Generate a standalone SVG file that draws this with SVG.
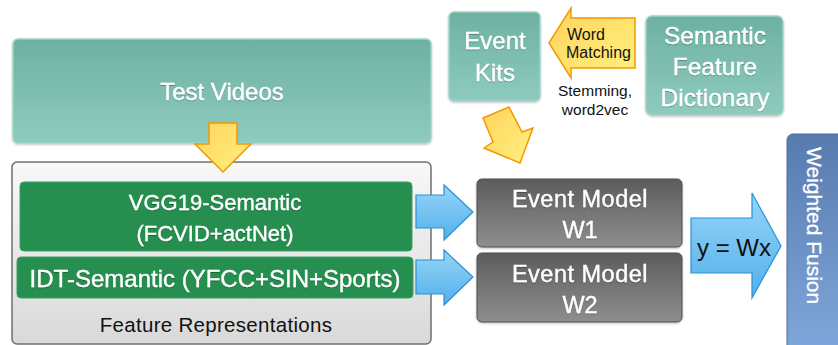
<svg xmlns="http://www.w3.org/2000/svg" width="838" height="345" viewBox="0 0 838 345">
  <defs>
    <linearGradient id="teal" x1="0" y1="0" x2="0" y2="1">
      <stop offset="0" stop-color="#6db1a2"/>
      <stop offset="1" stop-color="#8ecbbe"/>
    </linearGradient>
    <linearGradient id="panel" x1="0" y1="0" x2="0" y2="1">
      <stop offset="0" stop-color="#f8f8f8"/>
      <stop offset="1" stop-color="#d9d9d9"/>
    </linearGradient>
    <linearGradient id="gray" x1="0" y1="0" x2="0" y2="1">
      <stop offset="0" stop-color="#5c5c5c"/>
      <stop offset="1" stop-color="#8e8e8e"/>
    </linearGradient>
    <linearGradient id="steel" x1="0" y1="0" x2="0" y2="1">
      <stop offset="0" stop-color="#587bae"/>
      <stop offset="1" stop-color="#82a9de"/>
    </linearGradient>
    <linearGradient id="sky" x1="0" y1="0" x2="0" y2="1">
      <stop offset="0" stop-color="#96d5f8"/>
      <stop offset="1" stop-color="#52b0ea"/>
    </linearGradient>
    <linearGradient id="amber" x1="0" y1="0" x2="1" y2="1">
      <stop offset="0" stop-color="#ffd45e"/>
      <stop offset="1" stop-color="#fff07e"/>
    </linearGradient>
    <filter id="shade" x="-5%" y="-5%" width="110%" height="115%">
      <feDropShadow dx="0" dy="1" stdDeviation="1" flood-color="#000" flood-opacity="0.25"/>
    </filter>
    <filter id="glyphshade" x="-5%" y="-20%" width="110%" height="140%">
      <feDropShadow dx="0" dy="1" stdDeviation="0.6" flood-color="#000" flood-opacity="0.3"/>
    </filter>
  </defs>
  <style>
    text { font-family: "Liberation Sans", Arial, sans-serif; }
    .light { fill: #ffffff; stroke: #ffffff; stroke-width: 0.35; text-anchor: middle; filter: url(#glyphshade); }
    .dark { fill: #111111; text-anchor: middle; }
    .tealbox { fill: url(#teal); stroke: #9fd3c6; stroke-width: 1.5; filter: url(#shade); }
    .greenbox { fill: #268e4f; stroke: #3aa063; stroke-width: 1; }
    .graybox { fill: url(#gray); stroke: #4e4e4e; stroke-width: 1; filter: url(#shade); }
    .amberarrow { fill: url(#amber); stroke: #f39800; stroke-width: 1.5; stroke-linejoin: miter; }
    .bluearrow { fill: url(#sky); stroke: #2a8fd6; stroke-width: 1.2; }
  </style>

  <!-- input node -->
  <g id="test-videos">
    <rect class="tealbox" x="13" y="39" width="418" height="104" rx="5"/>
    <text class="light" x="222" y="100" font-size="24">Test Videos</text>
  </g>

  <!-- container holding both feature blocks -->
  <g id="feature-representations">
    <rect x="12" y="162" width="419" height="182" rx="5" fill="url(#panel)" stroke="#6f6f6f" stroke-width="1.5"/>
    <text class="dark" x="216" y="332" font-size="20.5" letter-spacing="0.3">Feature Representations</text>
  </g>

  <g id="vgg19-semantic">
    <rect class="greenbox" x="20" y="182" width="392" height="69" rx="4"/>
    <text class="light" x="215" y="210" font-size="22">VGG19-Semantic</text>
    <text class="light" x="215" y="241" font-size="22">(FCVID+actNet)</text>
  </g>

  <g id="idt-semantic">
    <rect class="greenbox" x="17" y="257" width="396" height="41" rx="4"/>
    <text class="light" x="215" y="287" font-size="24">IDT-Semantic (YFCC+SIN+Sports)</text>
  </g>

  <g id="event-kits">
    <rect class="tealbox" x="449" y="12" width="91" height="89" rx="5"/>
    <text class="light" x="495" y="49" font-size="24">Event</text>
    <text class="light" x="495" y="81" font-size="24">Kits</text>
  </g>

  <g id="semantic-feature-dictionary">
    <rect class="tealbox" x="646" y="16" width="137" height="99" rx="6"/>
    <text class="light" x="715" y="44" font-size="24.5">Semantic</text>
    <text class="light" x="715" y="75" font-size="24.5">Feature</text>
    <text class="light" x="715" y="106" font-size="24.5">Dictionary</text>
  </g>

  <g id="event-model-w1">
    <rect class="graybox" x="477" y="179" width="205" height="68" rx="5"/>
    <text class="light" x="580" y="207" font-size="23.5" letter-spacing="0.5">Event Model</text>
    <text class="light" x="580" y="238" font-size="23.5">W1</text>
  </g>

  <g id="event-model-w2">
    <rect class="graybox" x="477" y="253" width="205" height="69" rx="5"/>
    <text class="light" x="580" y="282" font-size="23.5" letter-spacing="0.5">Event Model</text>
    <text class="light" x="580" y="313" font-size="23.5">W2</text>
  </g>

  <g id="weighted-fusion">
    <rect x="787" y="134" width="70" height="230" rx="6" fill="url(#steel)" stroke="#4a6b9c" stroke-width="1"/>
    <text x="807" y="147" font-size="21" fill="#ffffff" stroke="#ffffff" stroke-width="0.3" transform="rotate(90 807 147)">Weighted Fusion</text>
  </g>

  <!-- connectors -->
  <g id="connectors">
    <!-- Test Videos down into the feature blocks -->
    <polygon class="amberarrow" points="209,123 237,123 237,144 251,144 223,172 195,144 209,144"/>
    <!-- dictionary terms matched to event kits -->
    <polygon class="amberarrow" points="635,18 635,68 571,68 571,78 549,43 571,8 571,18"/>
    <text x="567" y="40" font-size="16" fill="#111111">Word</text>
    <text x="566" y="58" font-size="16" fill="#111111">Matching</text>
    <text class="dark" x="595" y="96" font-size="15.5">Stemming,</text>
    <text class="dark" x="595" y="115" font-size="15.5">word2vec</text>
    <!-- event kits down to the event models -->
    <polygon class="amberarrow" points="483,118 509,107 522,132 533,128 520,163 484,148 493,142"/>
    <!-- features to event models -->
    <polygon class="bluearrow" points="416,195 444,195 444,185 473,212 444,240 444,228 416,228"/>
    <polygon class="bluearrow" points="416,260 444,260 444,250 473,277 444,305 444,294 416,294"/>
    <!-- event models to fusion -->
    <polygon class="bluearrow" points="691,218 752,218 752,193 781,246 752,298 752,273 691,273"/>
    <text x="697" y="256" font-size="24" fill="#111111">y = Wx</text>
  </g>
</svg>
